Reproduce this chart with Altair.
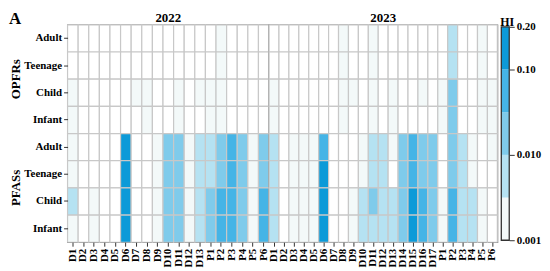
import altair as alt
import pandas as pd

FONT = "Liberation Serif"

groups = ["OPFRs", "PFASs"]
ages = ["Adult", "Teenage", "Child", "Infant"]
years = ["2022", "2023"]

cols_2022 = ["D1", "D2", "D3", "D4", "D5", "D6", "D7", "D8", "D9", "D10", "D11", "D12", "D13",
             "P1", "P2", "P3", "P4", "P5", "P6"]
cols_2023 = ["D1", "D2", "D3", "D4", "D5", "D6", "D7", "D8", "D9", "D10", "D11", "D12", "D13",
             "D14", "D15", "D16", "D17", "P1", "P2", "P3", "P4", "P5", "P6"]

# HI values (0 = below 0.001, drawn white)
opfrs_2022 = {
    "Adult":   [0, 0, 0, 0, 0, 0, 0, 0, 0, 0, 0, 0, 0, 0, 0.002, 0, 0, 0, 0],
    "Teenage": [0, 0, 0, 0, 0, 0, 0, 0, 0, 0, 0, 0, 0, 0, 0.002, 0, 0, 0, 0],
    "Child":   [0.002, 0, 0, 0, 0, 0, 0.002, 0.002, 0, 0, 0.002, 0, 0.002, 0.002, 0.002, 0, 0, 0, 0],
    "Infant":  [0.002, 0, 0, 0, 0, 0, 0, 0.002, 0, 0, 0.002, 0, 0, 0.002, 0.002, 0, 0, 0, 0],
}
pfass_2022 = {
    "Adult":   [0.002, 0, 0, 0, 0, 0.13, 0, 0, 0.002, 0.025, 0.025, 0.002, 0.007, 0.006, 0.03, 0.06, 0.025, 0.002, 0.025],
    "Teenage": [0.002, 0, 0, 0, 0, 0.13, 0, 0, 0.002, 0.025, 0.025, 0.002, 0.007, 0.006, 0.03, 0.06, 0.025, 0.002, 0.025],
    "Child":   [0.008, 0, 0.002, 0, 0, 0.14, 0, 0, 0.002, 0.025, 0.025, 0.002, 0.007, 0.03, 0.06, 0.06, 0.025, 0.002, 0.06],
    "Infant":  [0.002, 0, 0.002, 0, 0, 0.14, 0, 0, 0.002, 0.025, 0.025, 0.002, 0.007, 0.03, 0.06, 0.06, 0.025, 0.002, 0.06],
}
opfrs_2023 = {
    "Adult":   [0, 0, 0, 0, 0, 0, 0, 0.002, 0, 0, 0.002, 0, 0, 0, 0, 0, 0, 0, 0.007, 0, 0, 0.002, 0],
    "Teenage": [0, 0, 0, 0, 0, 0, 0, 0.002, 0, 0, 0.002, 0, 0, 0, 0, 0, 0, 0, 0.007, 0, 0, 0.002, 0],
    "Child":   [0.002, 0, 0, 0, 0, 0, 0, 0.002, 0.002, 0, 0.002, 0, 0.002, 0, 0, 0.002, 0, 0.002, 0.02, 0, 0, 0.002, 0.002],
    "Infant":  [0.002, 0, 0, 0, 0, 0, 0, 0.002, 0, 0, 0.002, 0, 0.002, 0, 0, 0, 0, 0.002, 0.02, 0, 0, 0.002, 0.002],
}
pfass_2023 = {
    "Adult":   [0.007, 0, 0.002, 0.002, 0.002, 0.07, 0, 0, 0, 0.002, 0.007, 0.007, 0.002, 0.025, 0.06, 0.03, 0.025, 0, 0.025, 0.007, 0.002, 0, 0.002],
    "Teenage": [0.007, 0, 0.002, 0.002, 0.002, 0.12, 0, 0, 0, 0.002, 0.007, 0.007, 0, 0.025, 0.06, 0.03, 0.025, 0, 0.025, 0.007, 0.002, 0, 0],
    "Child":   [0.007, 0, 0.002, 0.002, 0.002, 0.13, 0, 0, 0.002, 0.007, 0.025, 0.007, 0.007, 0.025, 0.15, 0.07, 0.025, 0.002, 0.07, 0.007, 0.007, 0.002, 0],
    "Infant":  [0.007, 0, 0.002, 0.002, 0.002, 0.13, 0, 0, 0.002, 0.007, 0.007, 0.007, 0.007, 0.025, 0.15, 0.07, 0.025, 0.002, 0.07, 0.007, 0.007, 0.002, 0],
}

# colour bands of the HI colour bar
band_edges = [0.001, 0.005, 0.01, 0.05, 0.1, 0.2]
band_colors = ["#f3f9f9", "#b5e2f2", "#7fcbeb", "#45b4e6", "#0c9ad8"]
below_color = "#ffffff"
tick_labels = {0: "0.001", 2: "0.010", 4: "0.10", 5: "0.20"}

row_keys = [f"{g}|{a}" for g in groups for a in ages]
row_scale = alt.Scale(domain=row_keys)


def frame(cols, tables):
    recs = []
    for g, table in zip(groups, tables):
        for a in ages:
            for c, v in zip(cols, table[a]):
                recs.append({"col": c, "row": f"{g}|{a}", "HI": v})
    return pd.DataFrame(recs)


color_scale = alt.Scale(type="threshold", domain=band_edges[:-1],
                        range=[below_color] + band_colors)

x_axis = alt.Axis(title=None, labelAngle=270, labelFont=FONT, labelFontSize=11,
                  labelFontWeight="bold", labelColor="#000000", tickSize=4,
                  tickColor="#333333", domain=False, labelPadding=2)
y_axis = alt.Axis(title=None, labelExpr="split(datum.label, '|')[1]", labelFont=FONT,
                  labelFontSize=11, labelFontWeight="bold", labelColor="#000000",
                  tickSize=4, tickColor="#333333", domain=False, labelPadding=2)


def heat(cols, tables, show_y):
    df = frame(cols, tables)
    return alt.Chart(df).mark_rect(stroke="#c8c8c8", strokeWidth=1.2).encode(
        x=alt.X("col:N", sort=cols, scale=alt.Scale(domain=cols), axis=x_axis),
        y=alt.Y("row:N", scale=row_scale, axis=y_axis if show_y else None),
        color=alt.Color("HI:Q", scale=color_scale, legend=None),
    )


def year_label(year, width):
    return alt.Chart(pd.DataFrame({"t": [year]})).mark_text(
        font=FONT, fontSize=13, fontWeight="bold", align="center",
        baseline="alphabetic", color="#000000").encode(
        text="t:N", x=alt.value(width / 2), y=alt.value(-3))


W22, W23, H = 203, 230, 219

rect22 = heat(cols_2022, [opfrs_2022, pfass_2022], True)
rect23 = heat(cols_2023, [opfrs_2023, pfass_2023], False)

panel_letter = alt.Chart(pd.DataFrame({"t": ["A"]})).mark_text(
    font=FONT, fontSize=17, fontWeight="bold", align="left", baseline="alphabetic",
    color="#000000").encode(text="t:N", x=alt.value(-59), y=alt.value(-1))

group_df = pd.DataFrame({"g": groups, "anchor": [f"{g}|Child" for g in groups]})
group_labels = alt.Chart(group_df).mark_text(
    font=FONT, fontSize=13, fontWeight="bold", angle=270, align="center",
    baseline="middle", color="#000000").encode(
    text="g:N", x=alt.value(-52),
    y=alt.Y("anchor:N", scale=row_scale, bandPosition=0))

p22 = alt.layer(rect22, group_labels, panel_letter, year_label(years[0], W22)).properties(
    width=W22, height=H)
p23 = alt.layer(rect23, year_label(years[1], W23)).properties(width=W23, height=H)

# colour bar
cb_df = pd.DataFrame({"lo": list(range(len(band_colors))),
                      "hi": list(range(1, len(band_colors) + 1)),
                      "color": band_colors})
tick_vals = list(tick_labels.keys())
expr = "''"
for k in reversed(tick_vals):
    expr = f"datum.value == {k} ? '{tick_labels[k]}' : ({expr})"

cb_scale = alt.Scale(domain=[0, len(band_colors)], range=[217, 2])
cb_rect = alt.Chart(cb_df).mark_rect().encode(
    x=alt.value(4), x2=alt.value(12),
    y=alt.Y("lo:Q", scale=cb_scale,
            axis=alt.Axis(orient="right", values=tick_vals, labelExpr=expr, title=None,
                          grid=False, domain=False, tickSize=5, tickColor="#333333",
                          labelFont=FONT, labelFontSize=11, labelFontWeight="bold",
                          labelColor="#000000", labelPadding=2)),
    y2="hi:Q",
    color=alt.Color("color:N", scale=None, legend=None),
)
cb_border = alt.Chart(pd.DataFrame({"lo": [0], "hi": [len(band_colors)]})).mark_rect(
    fillOpacity=0, stroke="#333333", strokeWidth=1.3).encode(
    x=alt.value(4), x2=alt.value(12),
    y=alt.Y("lo:Q", scale=cb_scale), y2="hi:Q")
cb_title = alt.Chart(pd.DataFrame({"t": ["HI"]})).mark_text(
    font=FONT, fontSize=12, fontWeight="bold", align="left", baseline="alphabetic",
    color="#000000").encode(text="t:N", x=alt.value(3), y=alt.value(1))

cbar = alt.layer(cb_rect, cb_border, cb_title).properties(
    width=12, height=H, view=alt.ViewBackground(stroke="transparent"))

chart = alt.hconcat(p22, p23, cbar, spacing=0, bounds="flush").resolve_scale(
    x="independent", y="independent", color="independent"
).properties(
    padding={"left": 0, "top": 0, "right": 0, "bottom": 0}
).configure_view(stroke="#333333", strokeWidth=1.3)

chart.save("out.html", embed_options={"renderer": "svg", "actions": False})
